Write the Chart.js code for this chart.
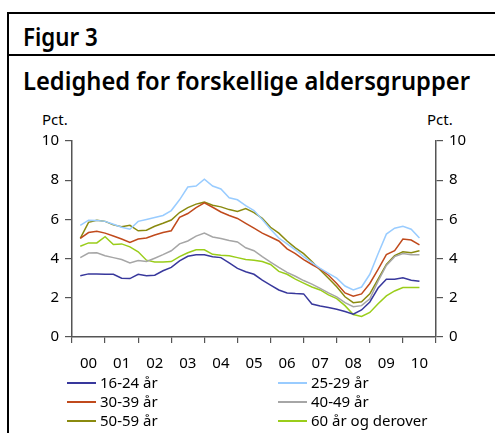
<!DOCTYPE html>
<html>
<head>
<meta charset="utf-8">
<script src="https://cdn.jsdelivr.net/npm/chart.js@4.4.1/dist/chart.umd.min.js"></script>
<style>
  html, body { margin: 0; padding: 0; background: #fff; }
  #wrap { position: relative; width: 495px; height: 433px; overflow: hidden; font-family: "Noto Sans", sans-serif; color: #000; }
  #chart { position: absolute; left: 0; top: 0; }
  .rule { position: absolute; background: #000; }
  .head { position: absolute; left: 23px; font-weight: 600; font-size: 25px; line-height: 25px; white-space: nowrap; transform-origin: 0 0; }
  .pct { position: absolute; font-size: 15px; line-height: 15px; }
  .leg { position: absolute; font-size: 15px; line-height: 15px; white-space: nowrap; }
  .leg i { position: absolute; top: 7px; width: 29px; height: 1.5px; }
  .leg span { position: absolute; left: 33px; top: 0; }
</style>
</head>
<body>
<div id="wrap">
  <div class="rule" style="left:7px;top:12px;width:488px;height:1.5px"></div>
  <div class="rule" style="left:7px;top:54px;width:488px;height:1.5px"></div>
  <div class="rule" style="left:7px;top:12px;width:1.5px;height:421px"></div>
  <div class="head" id="fig" style="top:24px">Figur 3</div>
  <div class="head" id="ttl" style="top:68px">Ledighed for forskellige aldersgrupper</div>
  <div class="pct" style="left:42px;top:112px">Pct.</div>
  <div class="pct" style="left:427px;top:112px">Pct.</div>
  <canvas id="chart" width="495" height="433"></canvas>
  <div id="legend"></div>
</div>
<script>
// quarterly points, years as decimals
const years = [2000.25, 2000.5, 2000.75,
  2001, 2001.25, 2001.5, 2001.75, 2002, 2002.25, 2002.5, 2002.75,
  2003, 2003.25, 2003.5, 2003.75, 2004, 2004.25, 2004.5, 2004.75,
  2005, 2005.25, 2005.5, 2005.75, 2006, 2006.25, 2006.5, 2006.75,
  2007, 2007.25, 2007.5, 2007.75, 2008, 2008.25, 2008.5, 2008.75,
  2009, 2009.25, 2009.5, 2009.75, 2010, 2010.25, 2010.5];

const age1624 = [3.12, 3.22, 3.22, 3.2, 3.2, 3.0, 2.98, 3.2, 3.12, 3.15, 3.38,
  3.55, 3.88, 4.12, 4.2, 4.2, 4.09, 4.05, 3.78, 3.5, 3.33, 3.2, 2.9,
  2.65, 2.4, 2.25, 2.22, 2.2, 1.68, 1.58, 1.5, 1.42, 1.3, 1.16, 1.38,
  1.79, 2.5, 2.95, 2.95, 3.02, 2.9, 2.85];
const age2529 = [5.7, 5.96, 5.95, 5.9, 5.75, 5.6, 5.5, 5.9, 6.0, 6.1, 6.2,
  6.45, 7.0, 7.65, 7.7, 8.05, 7.7, 7.55, 7.1, 7.0, 6.7, 6.45, 6.0,
  5.5, 5.05, 4.75, 4.45, 4.1, 3.8, 3.5, 3.25, 3.0, 2.6, 2.4, 2.55,
  3.2, 4.25, 5.25, 5.55, 5.65, 5.5, 5.05];
const age3039 = [5.03, 5.33, 5.4, 5.3, 5.15, 5.0, 4.82, 5.0, 5.05, 5.2, 5.33,
  5.42, 6.1, 6.3, 6.6, 6.85, 6.62, 6.38, 6.2, 6.05, 5.8, 5.55, 5.3,
  5.1, 4.9, 4.5, 4.25, 3.95, 3.7, 3.47, 3.15, 2.73, 2.25, 2.08, 2.2,
  2.73, 3.45, 4.2, 4.4, 5.0, 4.95, 4.7];
const age4049 = [4.05, 4.28, 4.3, 4.15, 4.05, 3.95, 3.78, 3.9, 3.85, 4.02, 4.2,
  4.4, 4.75, 4.9, 5.15, 5.3, 5.1, 5.02, 4.92, 4.85, 4.55, 4.4, 4.1,
  3.82, 3.55, 3.3, 3.1, 2.88, 2.7, 2.48, 2.25, 2.05, 1.75, 1.55, 1.6,
  1.95, 2.85, 3.65, 4.1, 4.26, 4.2, 4.2];
const age5059 = [5.03, 5.85, 5.95, 5.9, 5.72, 5.62, 5.7, 5.42, 5.45, 5.65, 5.8,
  5.97, 6.35, 6.6, 6.78, 6.88, 6.72, 6.64, 6.5, 6.4, 6.55, 6.35, 6.05,
  5.6, 5.3, 4.9, 4.55, 4.25, 3.85, 3.42, 3.0, 2.56, 2.05, 1.75, 1.8,
  2.2, 2.95, 3.7, 4.15, 4.35, 4.3, 4.4];
const age60 = [4.63, 4.8, 4.8, 5.12, 4.72, 4.75, 4.6, 4.35, 3.92, 3.83, 3.83,
  3.85, 4.1, 4.3, 4.45, 4.45, 4.22, 4.17, 4.15, 4.05, 3.95, 3.92, 3.85,
  3.7, 3.35, 3.2, 2.95, 2.75, 2.55, 2.4, 2.15, 1.96, 1.6, 1.15, 1.05,
  1.25, 1.7, 2.1, 2.35, 2.52, 2.52, 2.52];

const labels = ['16-24 år', '25-29 år', '30-39 år', '40-49 år', '50-59 år', '60 år og derover'];
const colors = ['#38389c', '#99ccff', '#c04a1c', '#a6a6a6', '#8a8a0f', '#9acd1a'];
const series = [age1624, age2529, age3039, age4049, age5059, age60];
const yTicks = [0, 2, 4, 6, 8, 10];

// fit the headings to the width they have in the original
function fitWidth(id, w) {
  const el = document.getElementById(id);
  el.style.transform = 'scaleX(' + (w / el.offsetWidth) + ')';
}
fitWidth('fig', 75);
fitWidth('ttl', 447);

// legend, two columns
const legend = document.getElementById('legend');
labels.forEach((lab, i) => {
  const row = document.createElement('div');
  row.className = 'leg';
  row.style.left = (i % 2 === 0 ? 67 : 278) + 'px';
  row.style.top = (375 + Math.floor(i / 2) * 19) + 'px';
  row.innerHTML = '<i style="background:' + colors[i] + '"></i><span>' + lab + '</span>';
  legend.appendChild(row);
});

const tickFont = { family: 'Noto Sans', size: 15 };
const yAxis = (pos) => ({
  position: pos,
  min: 0,
  max: 10,
  afterBuildTicks: (s) => { s.ticks = yTicks.map(v => ({ value: v })); },
  afterFit: (s) => { s.width = pos === 'left' ? 72 : 59; },
  grid: { drawOnChartArea: false, tickLength: 7, color: '#555', lineWidth: 1.2 },
  border: { color: '#555', width: 1.5 },
  ticks: { color: '#000', font: tickFont, padding: 6 }
});

new Chart(document.getElementById('chart'), {
  type: 'line',
  data: {
    datasets: series.map((s, i) => ({
      label: labels[i],
      data: years.map((x, j) => ({ x: x, y: s[j] })),
      borderColor: colors[i],
      borderWidth: 1.5,
      pointRadius: 0,
      tension: 0,
      yAxisID: 'y'
    }))
  },
  options: {
    responsive: false,
    animation: false,
    layout: { padding: { left: 0, right: 0, top: 141, bottom: 56 } },
    plugins: { legend: { display: false }, tooltip: { enabled: false } },
    scales: {
      x: {
        type: 'linear',
        min: 2000,
        max: 2011,
        afterBuildTicks: (s) => {
          const t = [];
          for (let v = 2000; v <= 2011; v += 0.5) t.push({ value: v });
          s.ticks = t;
        },
        afterFit: (s) => { s.height = 40; },
        grid: {
          drawOnChartArea: false,
          tickLength: 6,
          lineWidth: 1.2,
          color: (c) => (c.tick && c.tick.value % 1 === 0) ? '#555' : 'rgba(0,0,0,0)'
        },
        border: { color: '#555', width: 1.5 },
        ticks: {
          color: '#000',
          font: tickFont,
          padding: 12,
          autoSkip: false,
          maxRotation: 0,
          callback: (v) => (v % 1 === 0) ? '' : String(Math.floor(v) - 2000).padStart(2, '0')
        }
      },
      y: yAxis('left'),
      y2: yAxis('right')
    }
  }
});
</script>
</body>
</html>
